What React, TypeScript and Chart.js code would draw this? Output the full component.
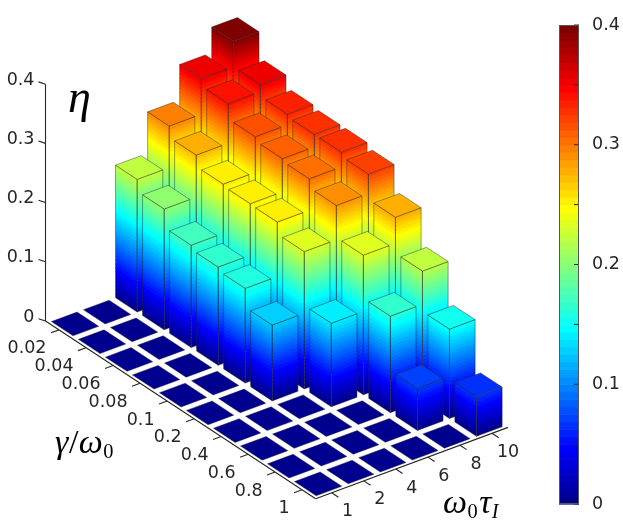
import { useEffect, useRef } from "react";
import { Chart, registerables } from "chart.js";
import type { Plugin } from "chart.js";

Chart.register(...registerables);

const WIDTH = 623;
const HEIGHT = 530;

// grid of the bar3 plot: omega0*tau_I along one floor edge, gamma/omega0 along the other
const omegaTauLabels = ["1", "2", "4", "6", "8", "10"];
const gammaLabels = ["0.02", "0.04", "0.06", "0.08", "0.1", "0.2", "0.4", "0.6", "0.8", "1"];
const zTicks = [0, 0.1, 0.2, 0.3, 0.4];

// eta for each gamma/omega0 row, one array per omega0*tau_I column
const etaW1 = [0, 0, 0, 0, 0, 0, 0, 0, 0, 0];
const etaW2 = [0, 0, 0, 0, 0, 0, 0, 0, 0, 0];
const etaW4 = [0.224, 0.204, 0.173, 0.166, 0.16, 0.128, 0, 0, 0, 0];
const etaW6 = [0.294, 0.275, 0.256, 0.253, 0.252, 0.232, 0.141, 0, 0, 0];
const etaW8 = [0.354, 0.342, 0.316, 0.309, 0.305, 0.29, 0.236, 0.163, 0.071, 0];
const etaW10 = [0.397, 0.354, 0.334, 0.33, 0.33, 0.323, 0.28, 0.219, 0.151, 0.067];
const etaColumns = [etaW1, etaW2, etaW4, etaW6, etaW8, etaW10];

const ETA_MIN = 0;
const ETA_MAX = 0.4;
const JET_LEVELS = 64;

// view of the box (orthographic, like matlab's view(az, el))
const AZ = (36.9 * Math.PI) / 180;
const EL = (29.6 * Math.PI) / 180;
const CELL_DEPTH = 1.122; // a gamma cell is a bit longer than an omega cell
const Z_SCALE = 16.98; // box units per unit of eta
const BAR_WIDTH = 0.8;
const PX_PER_UNIT = 40.1;
const BOX_CORNER = { x: 45.5, y: 321 }; // where (omega 0.5, gamma 0.5, eta 0) lands

const TEXT = "#262626";
const EDGE = "rgba(40,40,40,0.55)";
const TICK_FONT = "17.5px 'DejaVu Sans'";

// matlab jet(64), built the way matlab builds it
function jetChannel(i: number) {
  if (i < 1 || i > 47) return 0;
  if (i <= 16) return i / 16;
  if (i <= 31) return 1;
  return (48 - i) / 16;
}

function jet64(k: number) {
  const r = jetChannel(k - 23);
  const g = jetChannel(k - 7);
  const b = jetChannel(k + 9);
  return `rgb(${Math.round(r * 255)},${Math.round(g * 255)},${Math.round(b * 255)})`;
}

function levelValue(k: number) {
  return ETA_MIN + (k / JET_LEVELS) * (ETA_MAX - ETA_MIN);
}

function colorIndex(v: number) {
  const k = Math.floor(((v - ETA_MIN) / (ETA_MAX - ETA_MIN)) * JET_LEVELS);
  return Math.min(JET_LEVELS - 1, Math.max(0, k));
}

function toView(wx: number, wy: number, eta: number) {
  const X = wx - 0.5;
  const Y = (wy - 0.5) * CELL_DEPTH;
  const Z = eta * Z_SCALE;
  return {
    h: X * Math.cos(AZ) + Y * Math.sin(AZ),
    v: (X * Math.sin(AZ) - Y * Math.cos(AZ)) * Math.sin(EL) + Z * Math.cos(EL),
  };
}

type Piece = { text: string; italic?: boolean; sub?: boolean };

function drawMath(ctx: CanvasRenderingContext2D, pieces: Piece[], x: number, y: number, size: number) {
  let cx = x;
  for (const p of pieces) {
    const s = p.sub ? size * 0.6 : size;
    ctx.font = `${p.italic ? "italic " : ""}${s}px 'Liberation Serif'`;
    ctx.fillText(p.text, cx, p.sub ? y + size * 0.16 : y);
    cx += ctx.measureText(p.text).width + (p.sub ? 1.5 : 0.5);
  }
}

const bar3Plugin: Plugin = {
  id: "bar3",
  afterDraw(chart) {
    const { ctx } = chart;
    const xs = chart.scales.x;
    const ys = chart.scales.y;
    const nCols = etaColumns.length;
    const nRows = gammaLabels.length;

    const pt = (wx: number, wy: number, eta: number): [number, number] => {
      const p = toView(wx, wy, eta);
      return [xs.getPixelForValue(p.h), ys.getPixelForValue(p.v)];
    };
    const poly = (pts: [number, number][], fill?: string, stroke?: string) => {
      ctx.beginPath();
      ctx.moveTo(pts[0][0], pts[0][1]);
      for (let i = 1; i < pts.length; i++) ctx.lineTo(pts[i][0], pts[i][1]);
      ctx.closePath();
      if (fill) {
        ctx.fillStyle = fill;
        ctx.fill();
      }
      if (stroke) {
        ctx.strokeStyle = stroke;
        ctx.stroke();
      }
    };
    const line = (a: [number, number], b: [number, number]) => {
      ctx.beginPath();
      ctx.moveTo(a[0], a[1]);
      ctx.lineTo(b[0], b[1]);
      ctx.stroke();
    };

    ctx.save();
    ctx.lineJoin = "round";

    // axes
    ctx.strokeStyle = TEXT;
    ctx.fillStyle = TEXT;
    ctx.lineWidth = 1.1;
    ctx.font = TICK_FONT;
    line(pt(0.5, 0.5, zTicks[0]), pt(0.5, 0.5, zTicks[zTicks.length - 1]));
    line(pt(0.5, 0.5, 0), pt(0.5, nRows + 0.5, 0));
    line(pt(0.5, nRows + 0.5, 0), pt(nCols + 0.5, nRows + 0.5, 0));

    ctx.textAlign = "right";
    ctx.textBaseline = "middle";
    zTicks.forEach((z) => {
      const [x, y] = pt(0.5, 0.5, z);
      line([x, y], [x - 7, y - 2.3]);
      ctx.fillText(z === 0 ? "0" : String(z), x - 11, y - 4);
    });
    gammaLabels.forEach((label, i) => {
      const [x, y] = pt(0.5, i + 1, 0);
      line([x, y], pt(0.25, i + 1, 0));
      ctx.fillText(label, x - 12.5, y + 19);
    });
    ctx.textAlign = "center";
    omegaTauLabels.forEach((label, i) => {
      const [x, y] = pt(i + 1, nRows + 0.5, 0);
      line([x, y], pt(i + 1, nRows + 0.75, 0));
      ctx.fillText(label, x + 16, y + 19);
    });

    // bars, far ones first
    const cells: { c: number; r: number; eta: number }[] = [];
    etaColumns.forEach((col, ci) => col.forEach((eta, ri) => cells.push({ c: ci + 1, r: ri + 1, eta })));
    const far = (c: number, r: number) => (c - 0.5) * Math.sin(AZ) - (r - 0.5) * CELL_DEPTH * Math.cos(AZ);
    cells.sort((a, b) => far(b.c, b.r) - far(a.c, a.r));

    ctx.lineWidth = 0.8;
    for (const { c, r, eta } of cells) {
      const x0 = c - BAR_WIDTH / 2;
      const x1 = c + BAR_WIDTH / 2;
      const y0 = r - BAR_WIDTH / 2;
      const y1 = r + BAR_WIDTH / 2;
      if (eta > 0) {
        for (let k = 0; k < JET_LEVELS; k++) {
          const lo = levelValue(k);
          if (lo >= eta) break;
          const hi = Math.min(levelValue(k + 1) + 0.002, eta);
          const col = jet64(k);
          poly([pt(x0, y1, lo), pt(x1, y1, lo), pt(x1, y1, hi), pt(x0, y1, hi)], col);
          poly([pt(x0, y0, lo), pt(x0, y1, lo), pt(x0, y1, hi), pt(x0, y0, hi)], col);
        }
        poly([pt(x0, y1, 0), pt(x1, y1, 0), pt(x1, y1, eta), pt(x0, y1, eta)], undefined, EDGE);
        poly([pt(x0, y0, 0), pt(x0, y1, 0), pt(x0, y1, eta), pt(x0, y0, eta)], undefined, EDGE);
      }
      poly([pt(x0, y0, eta), pt(x1, y0, eta), pt(x1, y1, eta), pt(x0, y1, eta)], jet64(colorIndex(eta)), EDGE);
    }

    // axis titles
    ctx.fillStyle = "#000";
    ctx.textAlign = "left";
    ctx.textBaseline = "alphabetic";
    drawMath(ctx, [{ text: "η", italic: true }], 68, 112, 46);
    drawMath(
      ctx,
      [{ text: "γ", italic: true }, { text: "/" }, { text: "ω", italic: true }, { text: "0", sub: true }],
      55,
      453,
      34
    );
    drawMath(
      ctx,
      [
        { text: "ω", italic: true },
        { text: "0", sub: true },
        { text: "τ", italic: true },
        { text: "I", italic: true, sub: true },
      ],
      443,
      513,
      34
    );
    ctx.restore();
  },
};

const colorbarPlugin: Plugin = {
  id: "jetColorbar",
  beforeDatasetsDraw(chart) {
    const { ctx, chartArea: a } = chart;
    const ys = chart.scales.y;
    ctx.save();
    for (let k = 0; k < JET_LEVELS; k++) {
      const yLo = ys.getPixelForValue(levelValue(k));
      const yHi = ys.getPixelForValue(levelValue(k + 1));
      ctx.fillStyle = jet64(k);
      ctx.fillRect(a.left, yHi, a.right - a.left, yLo - yHi + 0.6);
    }
    ctx.strokeStyle = TEXT;
    ctx.lineWidth = 1;
    ys.ticks.forEach((t) => {
      const y = ys.getPixelForValue(t.value);
      ctx.beginPath();
      ctx.moveTo(a.right, y);
      ctx.lineTo(a.right - 5, y);
      ctx.stroke();
    });
    ctx.strokeStyle = "#555";
    ctx.strokeRect(a.left + 0.5, a.top + 0.5, a.right - a.left - 1, a.bottom - a.top - 1);
    ctx.restore();
  },
};

function Bar3Chart() {
  const canvasRef = useRef<HTMLCanvasElement>(null);

  useEffect(() => {
    if (!canvasRef.current) return;
    const chart = new Chart(canvasRef.current, {
      type: "scatter",
      data: { datasets: [{ data: [] }] },
      options: {
        responsive: false,
        animation: false,
        events: [],
        layout: { padding: 0 },
        plugins: { legend: { display: false }, tooltip: { enabled: false } },
        scales: {
          x: {
            type: "linear",
            display: false,
            min: -BOX_CORNER.x / PX_PER_UNIT,
            max: (WIDTH - BOX_CORNER.x) / PX_PER_UNIT,
          },
          y: {
            type: "linear",
            display: false,
            min: -(HEIGHT - BOX_CORNER.y) / PX_PER_UNIT,
            max: BOX_CORNER.y / PX_PER_UNIT,
          },
        },
      },
      plugins: [bar3Plugin],
    });
    return () => chart.destroy();
  }, []);

  return <canvas ref={canvasRef} width={WIDTH} height={HEIGHT} style={{ position: "absolute", left: 0, top: 0 }} />;
}

function Colorbar() {
  const canvasRef = useRef<HTMLCanvasElement>(null);

  useEffect(() => {
    if (!canvasRef.current) return;
    const chart = new Chart(canvasRef.current, {
      type: "bar",
      data: { labels: ["η"], datasets: [{ data: [] }] },
      options: {
        responsive: false,
        animation: false,
        events: [],
        layout: { padding: { left: 19, top: 25, bottom: 26, right: 0 } },
        plugins: { legend: { display: false }, tooltip: { enabled: false } },
        scales: {
          x: { display: false },
          y: {
            position: "right",
            min: ETA_MIN,
            max: ETA_MAX,
            grid: { display: false },
            border: { display: false },
            afterFit: (scale) => {
              scale.width = 44;
            },
            ticks: {
              stepSize: 0.05,
              padding: 5,
              color: TEXT,
              font: { family: "DejaVu Sans", size: 17.5 },
              callback: (value) => {
                const v = Number(value);
                const tenth = Math.round(v * 10);
                if (Math.abs(v * 10 - tenth) > 1e-6) return "";
                return tenth === 0 ? "0" : String(tenth / 10);
              },
            },
          },
        },
      },
      plugins: [colorbarPlugin],
    });
    return () => chart.destroy();
  }, []);

  return <canvas ref={canvasRef} width={83} height={HEIGHT} style={{ position: "absolute", left: 540, top: 0 }} />;
}

export default function App() {
  useEffect(() => {
    document.body.style.margin = "0";
  }, []);

  return (
    <div style={{ position: "relative", width: WIDTH, height: HEIGHT, background: "#fff" }}>
      <Bar3Chart />
      <Colorbar />
    </div>
  );
}
